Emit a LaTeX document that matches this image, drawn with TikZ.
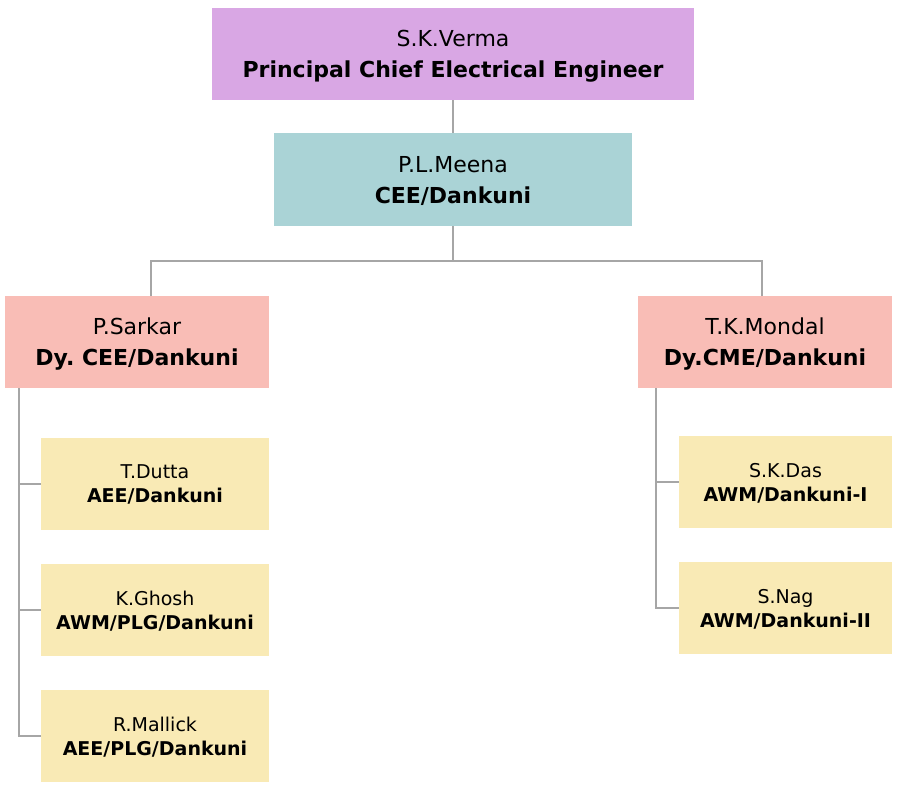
\documentclass[tikz,border=0pt]{standalone}
\usepackage{fontspec}
\setmainfont{DejaVu Sans}
\frenchspacing
\definecolor{cTop}{HTML}{D9A7E4}
\definecolor{cCee}{HTML}{AAD3D6}
\definecolor{cDy}{HTML}{F9BDB6}
\definecolor{cLow}{HTML}{F9EAB5}
\definecolor{cLine}{HTML}{A6A6A6}
\begin{document}
\begin{tikzpicture}[x=1pt,y=-1pt,
  box/.style={inner sep=0pt, outer sep=0pt, align=center, anchor=north west},
  big/.style={box, font=\fontsize{22}{31}\selectfont, text depth=-2pt},
  small/.style={box, font=\fontsize{19}{24}\selectfont, text depth=0pt},
  conn/.style={draw=cLine, line width=1.9pt}]
\useasboundingbox (0,0) rectangle (901,788);
% boxes
\node[big, fill=cTop, minimum width=482pt, minimum height=92pt] (top) at (212,8) {S.K.Verma\\\textbf{Principal Chief Electrical Engineer}};
\node[big, fill=cCee, minimum width=358pt, minimum height=93pt] (cee) at (274,133) {P.L.Meena\\\textbf{CEE/Dankuni}};
\node[big, fill=cDy, minimum width=264pt, minimum height=92pt] (ps) at (5,296) {P.Sarkar\\\textbf{Dy. CEE/Dankuni}};
\node[big, fill=cDy, minimum width=254pt, minimum height=92pt] (tk) at (638,296) {T.K.Mondal\\\textbf{Dy.CME/Dankuni}};
\node[small, fill=cLow, minimum width=228pt, minimum height=92pt] (td) at (41,438) {T.Dutta\\\textbf{AEE/Dankuni}};
\node[small, fill=cLow, minimum width=228pt, minimum height=92pt] (kg) at (41,564) {K.Ghosh\\\textbf{AWM/PLG/Dankuni}};
\node[small, fill=cLow, minimum width=228pt, minimum height=92pt] (rm) at (41,690) {R.Mallick\\\textbf{AEE/PLG/Dankuni}};
\node[small, fill=cLow, minimum width=213pt, minimum height=92pt] (sd) at (679,436) {S.K.Das\\\textbf{AWM/Dankuni-I}};
\node[small, fill=cLow, minimum width=213pt, minimum height=92pt] (sn) at (679,562) {S.Nag\\\textbf{AWM/Dankuni-II}};
% connectors
\coordinate (busL) at (151,261);
\coordinate (busR) at (762,261);
\coordinate (busM) at (453,261);
\draw[conn] (top.south) -- (cee.north);
\draw[conn] (cee.south) -- (busM);
\draw[conn] (ps.north -| busL) -- (busL) -- (busR) -- (tk.north -| busR);
\coordinate (lv) at (19,388);
\draw[conn] (lv) |- (td.west);
\draw[conn] (lv) |- (kg.west);
\draw[conn] (lv) |- (rm.west);
\coordinate (rv) at (656,388);
\draw[conn] (rv) |- (sd.west);
\draw[conn] (rv) |- (sn.west);
\end{tikzpicture}
\end{document}
